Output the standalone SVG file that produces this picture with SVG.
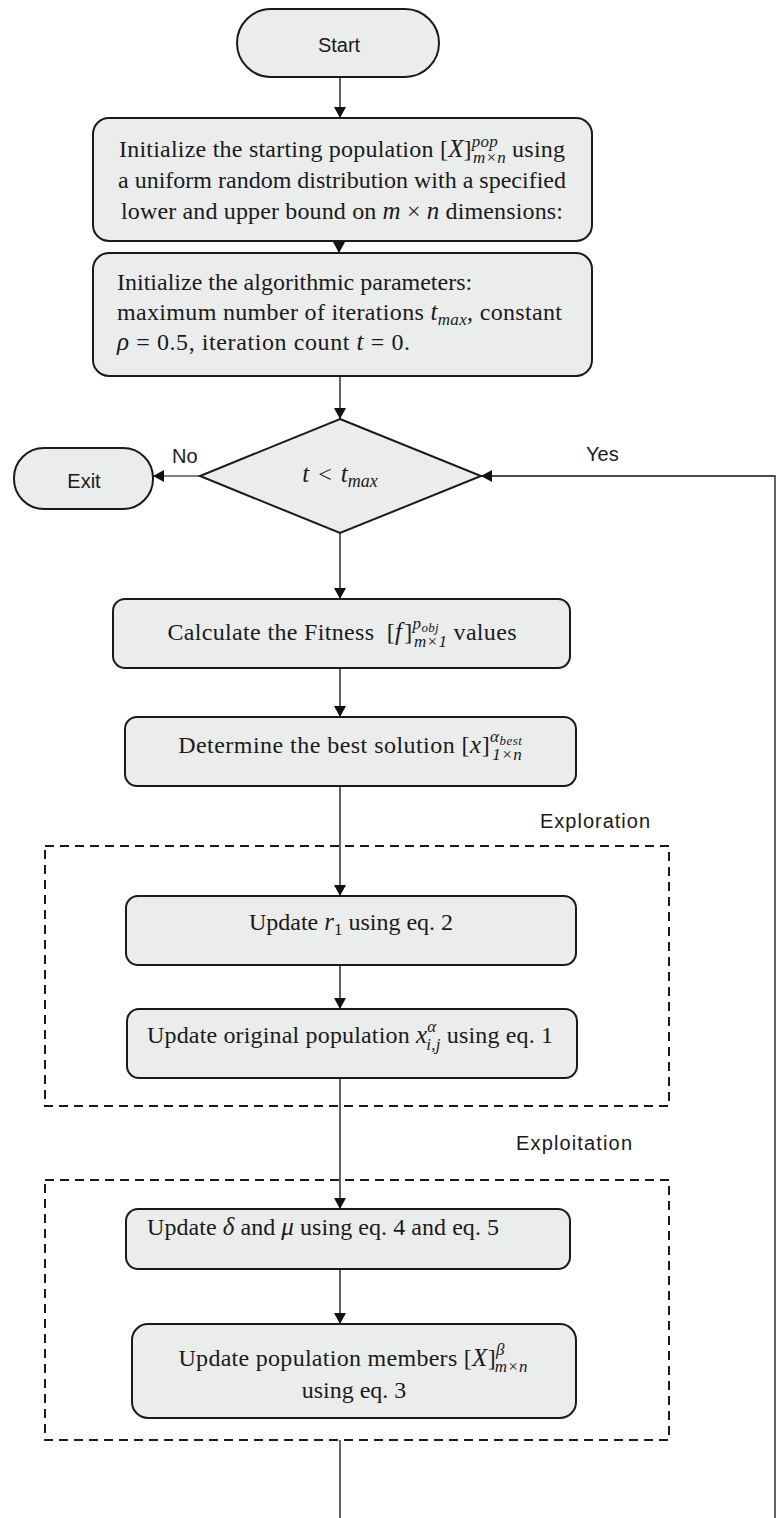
<svg xmlns="http://www.w3.org/2000/svg" width="779" height="1518" viewBox="0 0 779 1518">
<style>
.box{fill:#ebecec;stroke:#1a1a1a;stroke-width:2}
.serif{font-family:"Liberation Serif","Times New Roman",serif;font-size:24px;fill:#1a1a1a}
.sans{font-family:"Liberation Sans",Arial,sans-serif;font-size:20px;fill:#1a1a1a}
.mi{font-style:italic}
.mv{font-style:italic;font-size:25px}
.sc{font-size:17px}
.ss{font-size:13px}
.conn{stroke:#111;stroke-width:1.3;fill:none}
.arr{marker-end:url(#ah)}
.dash{fill:none;stroke:#1a1a1a;stroke-width:2;stroke-dasharray:9 6}
</style>
<defs>
<marker id="ah" viewBox="0 0 11 12" refX="11" refY="6" markerWidth="11" markerHeight="12" markerUnits="userSpaceOnUse" orient="auto">
<path d="M0,0 L11,6 L0,12 z" fill="#111"/>
</marker>
</defs>
<rect width="779" height="1518" fill="#ffffff"/>

<g id="groups">
<rect class="dash" x="45" y="846" width="624" height="260"/>
<rect class="dash" x="45" y="1180" width="624" height="260"/>
<text class="sans" x="540" y="828" textLength="110">Exploration</text>
<text class="sans" x="516" y="1150" textLength="116">Exploitation</text>
</g>

<g id="connectors">
<line class="conn arr" x1="340" y1="77" x2="340" y2="118"/>
<line class="conn arr" x1="339" y1="207" x2="339" y2="253"/>
<line class="conn arr" x1="340" y1="376" x2="340" y2="419"/>
<line class="conn arr" x1="200" y1="476" x2="153" y2="476" style="stroke:#555"/>
<line class="conn arr" x1="340" y1="533" x2="340" y2="599"/>
<line class="conn arr" x1="340" y1="668" x2="340" y2="717"/>
<line class="conn arr" x1="340" y1="786" x2="340" y2="896"/>
<line class="conn arr" x1="340" y1="965" x2="340" y2="1009"/>
<line class="conn arr" x1="340" y1="1078" x2="340" y2="1209"/>
<line class="conn arr" x1="340" y1="1269" x2="340" y2="1324"/>
<line class="conn" x1="340" y1="1440" x2="340" y2="1518"/>
<polyline class="conn arr" points="775,1518 775,476 481,476"/>
<text class="sans" x="172" y="463">No</text>
<text class="sans" x="586" y="461">Yes</text>
</g>

<g id="start">
<rect class="box" x="237" y="9" width="202" height="68" rx="34"/>
<text class="sans" x="339" y="52" text-anchor="middle" font-size="21">Start</text>
</g>

<g id="init-pop">
<rect class="box" x="93" y="118" width="499" height="123" rx="16"/>
<text class="serif" x="342" y="157" text-anchor="middle" textLength="446">Initialize the starting population [<tspan class="mv">X</tspan>]<tspan class="mi sc" dy="-10">pop</tspan><tspan class="mi sc" dx="-25" dy="16">m×n</tspan><tspan dy="-6"> using</tspan></text>
<text class="serif" x="342" y="188" text-anchor="middle">a uniform random distribution with a specified</text>
<text class="serif" x="342" y="219" text-anchor="middle" textLength="442">lower and upper bound on <tspan class="mv">m</tspan> × <tspan class="mv">n</tspan> dimensions:</text>
</g>

<g id="init-params">
<rect class="box" x="93" y="253" width="499" height="123" rx="16"/>
<text class="serif" x="117" y="290">Initialize the algorithmic parameters:</text>
<text class="serif" x="117" y="320" textLength="445">maximum number of iterations <tspan class="mv">t</tspan><tspan class="mi sc" dy="5">max</tspan><tspan dy="-5">, constant</tspan></text>
<text class="serif" x="117" y="350" textLength="293"><tspan class="mv">ρ</tspan> = 0.5, iteration count <tspan class="mv">t</tspan> = 0.</text>
</g>

<g id="decision">
<polygon class="box" points="340,419 481,476 340,533 200,476"/>
<text class="serif" x="340" y="482" text-anchor="middle"><tspan class="mv">t</tspan><tspan dx="3"> &lt; </tspan><tspan class="mv" dx="3">t</tspan><tspan class="mi" font-size="18" dy="5">max</tspan></text>
</g>

<g id="exit">
<rect class="box" x="14" y="448" width="139" height="61" rx="30"/>
<text class="sans" x="84" y="488" text-anchor="middle" font-size="21">Exit</text>
</g>

<g id="fitness">
<rect class="box" x="113" y="599" width="457" height="69" rx="12"/>
<text class="serif" x="342" y="640" text-anchor="middle" textLength="349">Calculate the Fitness <tspan dx="6">[</tspan><tspan class="mv">f</tspan><tspan dx="2">]</tspan><tspan class="mi sc" dy="-11">p</tspan><tspan class="mi ss" dy="3">obj</tspan><tspan class="mi sc" dx="-25" dy="15">m×1</tspan><tspan dy="-7"> values</tspan></text>
</g>

<g id="best">
<rect class="box" x="125" y="717" width="451" height="69" rx="12"/>
<text class="serif" x="350" y="753" text-anchor="middle" textLength="345">Determine the best solution [<tspan class="mv">x</tspan>]<tspan class="mi sc" dy="-11">α</tspan><tspan class="mi ss" dy="3">best</tspan><tspan class="mi sc" dx="-30" dy="15">1×n</tspan></text>
</g>

<g id="update-r1">
<rect class="box" x="126" y="896" width="450" height="69" rx="12"/>
<text class="serif" x="351" y="930" text-anchor="middle">Update <tspan class="mv">r</tspan><tspan class="sc" dy="5">1</tspan><tspan dy="-5"> using eq. 2</tspan></text>
</g>

<g id="update-orig">
<rect class="box" x="127" y="1009" width="450" height="69" rx="12"/>
<text class="serif" x="350" y="1043" text-anchor="middle" textLength="406">Update original population <tspan class="mv">x</tspan><tspan class="mi sc" dy="-11">α</tspan><tspan class="mi sc" dx="-10" dy="18">i,j</tspan><tspan dy="-7"> using eq. 1</tspan></text>
</g>

<g id="update-delta">
<rect class="box" x="126" y="1209" width="444" height="60" rx="12"/>
<text class="serif" x="147" y="1235" textLength="352">Update <tspan class="mv">δ</tspan> and <tspan class="mv">μ</tspan> using eq. 4 and eq. 5</text>
</g>

<g id="update-pop">
<rect class="box" x="132" y="1324" width="444" height="94" rx="16"/>
<text class="serif" x="353" y="1366" text-anchor="middle" textLength="349">Update population members [<tspan class="mv">X</tspan>]<tspan class="mi sc" dy="-11">β</tspan><tspan class="mi sc" dx="-10" dy="17">m×n</tspan></text>
<text class="serif" x="354" y="1398" text-anchor="middle">using eq. 3</text>
</g>
</svg>
